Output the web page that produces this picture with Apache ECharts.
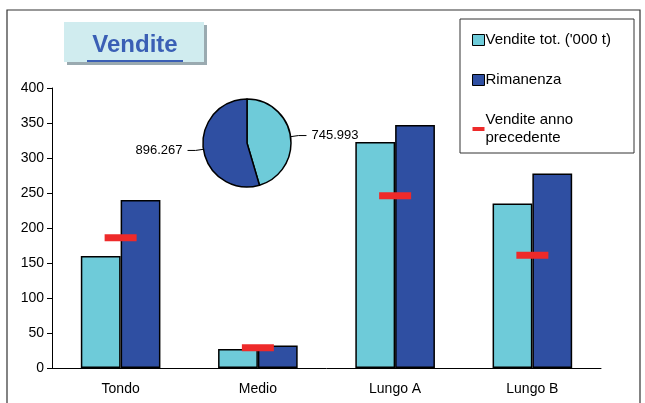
<!DOCTYPE html>
<html><head><meta charset="utf-8">
<script src="https://cdn.jsdelivr.net/npm/echarts@6/dist/echarts.min.js"></script>
<style>html,body{margin:0;padding:0;background:#fff}#c{width:645px;height:403px}</style>
</head><body><div id="c"></div>
<script>
var categories = ['Tondo', 'Medio', 'Lungo A', 'Lungo B'];
var venditeTot = [160, 27, 323, 235];
var rimanenza = [240, 32, 347, 278];
var venditePrec = [186, 29, 246, 161];
var pieData = [
  { name: 'Vendite tot. (\'000 t)', value: 745.993 },
  { name: 'Rimanenza', value: 896.267 }
];

var font = 'Liberation Sans, Arial, sans-serif';
var chart = echarts.init(document.getElementById('c'));
chart.setOption({
  animation: false,
  textStyle: { fontFamily: font },
  grid: { left: 52, right: 44, top: 88, bottom: 35 },
  graphic: [
    { type: 'rect', shape: { x: 7, y: 10, width: 633, height: 400 }, style: { fill: 'none', stroke: '#333', lineWidth: 1.2 } },
    { type: 'rect', shape: { x: 67, y: 25, width: 140, height: 40 }, style: { fill: '#9aaab0' } },
    { type: 'rect', shape: { x: 64, y: 22, width: 140, height: 40 }, style: { fill: '#d0ecef' } },
    { type: 'text', x: 135, y: 45, style: { text: 'Vendite', font: 'bold 24px ' + font, fill: '#3a5fb5', align: 'center', verticalAlign: 'middle' } },
    { type: 'rect', shape: { x: 87, y: 60, width: 96, height: 2 }, style: { fill: '#3a5fb5' } },
    { type: 'rect', shape: { x: 460, y: 19, width: 174, height: 134 }, style: { fill: '#fff', stroke: '#333', lineWidth: 1 }, z: 10 }
  ],
  legend: {
    orient: 'vertical', left: 467, top: 26, itemGap: 22, itemWidth: 12, itemHeight: 11, z: 20,
    textStyle: { fontSize: 15, color: '#000', fontFamily: font, padding: [0, 0, 0, -4], lineHeight: 18 },
    data: [
      { name: 'Vendite tot. (\'000 t)', icon: 'rect', itemStyle: { borderColor: '#000', borderWidth: 1 } },
      { name: 'Rimanenza', icon: 'rect', itemStyle: { borderColor: '#000', borderWidth: 1 } },
      { name: 'Vendite anno\nprecedente', icon: 'path://M0,0H12V4H0Z', itemStyle: { color: '#ee2a2a' } }
    ]
  },
  xAxis: {
    type: 'category', data: categories,
    axisLine: { lineStyle: { color: '#000' } },
    axisTick: { lineStyle: { color: '#000' }, length: 6 },
    axisLabel: { color: '#000', fontSize: 14, margin: 14 }
  },
  yAxis: {
    type: 'value', min: 0, max: 400, interval: 50,
    axisLine: { show: true, lineStyle: { color: '#000' } },
    axisTick: { show: true, lineStyle: { color: '#000' } },
    axisLabel: { color: '#000', fontSize: 14 },
    splitLine: { show: false }
  },
  series: [
    { name: 'Vendite tot. (\'000 t)', type: 'bar', data: venditeTot, barGap: '0%', barCategoryGap: '42%',
      itemStyle: { color: '#6ecbd9', borderColor: '#000', borderWidth: 1.5 } },
    { name: 'Rimanenza', type: 'bar', data: rimanenza,
      itemStyle: { color: '#2f4fa2', borderColor: '#000', borderWidth: 1.5 } },
    { name: 'Vendite anno\nprecedente', type: 'scatter', data: venditePrec, symbol: 'rect', symbolSize: [32, 7],
      itemStyle: { color: '#ee2a2a', opacity: 1 }, z: 5 },
    { type: 'pie', center: [247, 143], radius: 44, startAngle: 90, silent: true,
      data: [
        { name: pieData[0].name, value: pieData[0].value, itemStyle: { color: '#6ecbd9' } },
        { name: pieData[1].name, value: pieData[1].value, itemStyle: { color: '#2f4fa2' } }
      ],
      itemStyle: { borderColor: '#000', borderWidth: 1.5 },
      label: { formatter: function (p) { return p.value.toFixed(3); }, color: '#000', fontSize: 13, fontFamily: font },
      labelLine: { length: 8, length2: 8, lineStyle: { color: '#000' } }
    }
  ]
});
</script></body></html>
